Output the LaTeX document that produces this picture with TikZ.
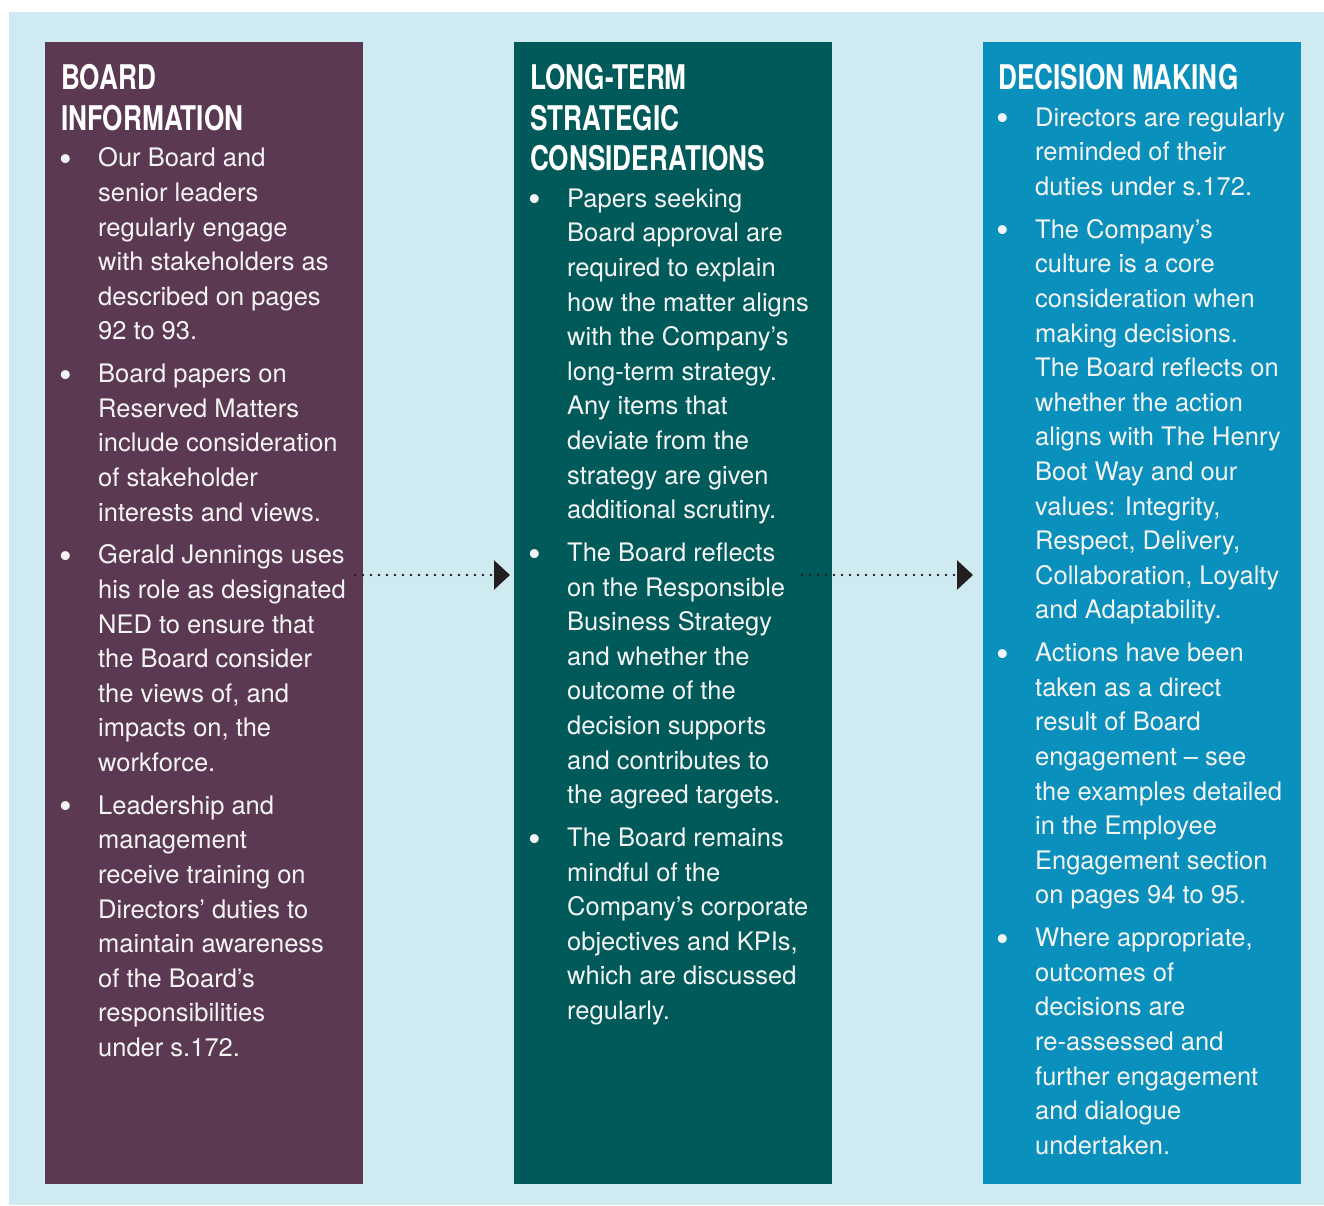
\documentclass[tikz,border=0pt]{standalone}
\usepackage{fontspec}
\setmainfont{TeX Gyre Heros}
\newfontfamily\headfont{TeX Gyre Heros}[FakeStretch=0.77]
\usetikzlibrary{positioning}
\usetikzlibrary{arrows.meta}
\definecolor{plum}{RGB}{92,57,82}
\definecolor{petrol}{RGB}{0,90,90}
\definecolor{ocean}{RGB}{10,144,188}
\definecolor{mist}{RGB}{207,235,241}
\definecolor{ink}{RGB}{35,31,32}
\definecolor{paper}{RGB}{244,244,244}

% bigger bullet glyph, kept on the text baseline
\newcommand{\bigdot}{\strut\raisebox{-4.5pt}{\fontsize{36}{34.6}\selectfont\textbullet}}

\begin{document}
\begin{tikzpicture}[x=1pt,y=-1pt,
  panel/.style={rectangle, inner sep=0pt, outer sep=0pt, minimum width=318pt,
    minimum height=1142pt, anchor=north west},
  head/.style={anchor=north west, inner sep=0pt, align=left, text=white,
    font=\headfont\bfseries\fontsize{34}{40.5}\selectfont},
  entry/.style={inner sep=0pt, align=left, text=paper,
    font=\fontsize{25.5}{34.6}\selectfont},
  dot/.style={inner sep=0pt, anchor=north west, text=paper,
    font=\fontsize{25.5}{34.6}\selectfont},
  flow/.style={ink, line width=2.6pt, line cap=round, dash pattern=on 0pt off 8pt,
    -{Triangle[length=16pt,width=29pt]}}]

\useasboundingbox (0,0) rectangle (1324,1205);
\fill[white] (0,0) rectangle (1324,1205);
\fill[mist] (9,12) rectangle (1324,1205);

%---------------------------------------
% Board information
%---------------------------------------
\node[panel, fill=plum] (pinfo) at (45,42) {};
\node[head] (hinfo) at ([xshift=16pt,yshift=-19pt]pinfo.north west)
  {\strut BOARD\\INFORMATION\strut};

\node[entry, below=0pt of hinfo.south west, anchor=north west, xshift=37pt] (t1a)
  {\strut Our Board and\\senior leaders\\regularly engage\\with stakeholders as\\described on pages\\92 to 93.\strut};
\node[entry, below=7.8pt of t1a.south west, anchor=north west] (t1b)
  {\strut Board papers on\\Reserved Matters\\include consideration\\of stakeholder\\interests and views.\strut};
\node[entry, below=7.8pt of t1b.south west, anchor=north west] (t1c)
  {\strut Gerald Jennings uses\\his role as designated\\NED to ensure that\\the Board consider\\the views of, and\\impacts on, the\\workforce.\strut};
\node[entry, below=7.8pt of t1c.south west, anchor=north west] (t1d)
  {\strut Leadership and\\management\\receive training on\\Directors’ duties to\\maintain awareness\\of the Board’s\\responsibilities\\under s.172.\strut};

\foreach \n in {t1a,t1b,t1c,t1d}
  \node[dot] (b-\n) at ([xshift=-38.5pt]\n.north west) {\bigdot};

%---------------------------------------
% Long-term strategic considerations
%---------------------------------------
\node[panel, fill=petrol] (pstrat) at (514,42) {};
\node[head] (hstrat) at ([xshift=16pt,yshift=-19pt]pstrat.north west)
  {\strut LONG-TERM\\STRATEGIC\\CONSIDERATIONS\strut};

\node[entry, below=0pt of hstrat.south west, anchor=north west, xshift=37pt] (t2a)
  {\strut Papers seeking\\Board approval are\\required to explain\\how the matter aligns\\with the Company’s\\long-term strategy.\\Any items that\\deviate from the\\strategy are given\\additional scrutiny.\strut};
\node[entry, below=7.8pt of t2a.south west, anchor=north west] (t2b)
  {\strut The Board reflects\\on the Responsible\\Business Strategy\\and whether the\\outcome of the\\decision supports\\and contributes to\\the agreed targets.\strut};
\node[entry, below=7.8pt of t2b.south west, anchor=north west] (t2c)
  {\strut The Board remains\\mindful of the\\Company’s corporate\\objectives and KPIs,\\which are discussed\\regularly.\strut};

\foreach \n in {t2a,t2b,t2c}
  \node[dot] (b-\n) at ([xshift=-38.5pt]\n.north west) {\bigdot};

%---------------------------------------
% Decision making
%---------------------------------------
\node[panel, fill=ocean] (pdec) at (983,42) {};
\node[head] (hdec) at ([xshift=15pt,yshift=-19pt]pdec.north west)
  {\strut DECISION MAKING\strut};

\node[entry, below=0pt of hdec.south west, anchor=north west, xshift=37pt] (t3a)
  {\strut Directors are regularly\\reminded of their\\duties under s.172.\strut};
\node[entry, below=7.8pt of t3a.south west, anchor=north west] (t3b)
  {\strut The Company’s\\culture is a core\\consideration when\\making decisions.\\The Board reflects on\\whether the action\\aligns with The Henry\\Boot Way and our\\values: Integrity,\\Respect, Delivery,\\Collaboration, Loyalty\\and Adaptability.\strut};
\node[entry, below=7.8pt of t3b.south west, anchor=north west] (t3c)
  {\strut Actions have been\\taken as a direct\\result of Board\\engagement – see\\the examples detailed\\in the Employee\\Engagement section\\on pages 94 to 95.\strut};
\node[entry, below=7.8pt of t3c.south west, anchor=north west] (t3d)
  {\strut Where appropriate,\\outcomes of\\decisions are\\re-assessed and\\further engagement\\and dialogue\\undertaken.\strut};

\foreach \n in {t3a,t3b,t3c,t3d}
  \node[dot] (b-\n) at ([xshift=-38.5pt]\n.north west) {\bigdot};

% Dotted connectors
\draw[flow, shorten >=4pt] ([xshift=-8pt,yshift=38pt]pinfo.east) -- ([yshift=38pt]pstrat.west);
\draw[flow, shorten >=10pt] ([xshift=-30pt,yshift=38pt]pstrat.east) -- ([yshift=38pt]pdec.west);

\end{tikzpicture}
\end{document}
